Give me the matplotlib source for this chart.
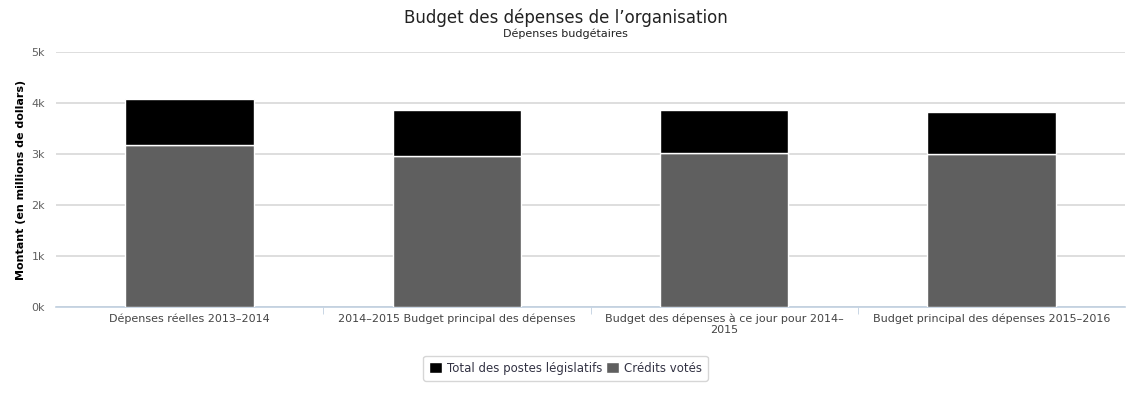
import matplotlib
matplotlib.use('Agg')
import matplotlib.pyplot as plt
from matplotlib.ticker import FuncFormatter

categories = [
    "Dépenses réelles 2013–2014",
    "2014–2015 Budget principal des dépenses",
    "Budget des dépenses à ce jour pour 2014–\n2015",
    "Budget principal des dépenses 2015–2016",
]
credits_votes = [3170, 2960, 3020, 3000]
postes_legislatifs = [900, 900, 840, 820]

plt.rcParams['font.family'] = ['DejaVu Sans']

fig = plt.figure(figsize=(11.31, 3.95), dpi=100)
ax = fig.add_axes([56 / 1131, 88 / 395, (1125 - 56) / 1131, (307 - 52) / 395])

x = range(len(categories))
ax.bar(x, credits_votes, width=0.48, color='#5f5f5f', edgecolor='white',
       linewidth=1, zorder=3, label="Crédits votés")
ax.bar(x, postes_legislatifs, width=0.48, bottom=credits_votes, color='black',
       edgecolor='white', linewidth=1, zorder=3, label="Total des postes législatifs")

ax.set_xlim(-0.5, len(categories) - 0.5)
ax.set_ylim(0, 5000)
ax.set_yticks(range(0, 5001, 1000))
ax.yaxis.set_major_formatter(FuncFormatter(lambda v, p: f"{int(v / 1000)}k"))
ax.grid(axis='y', color='#d8d8d8', linewidth=1.2, zorder=0)

ax.set_xticks(list(x))
ax.set_xticklabels(categories, fontsize=8, color='#444444', linespacing=1.1)
ax.set_xticks([0.5, 1.5, 2.5], minor=True)
ax.tick_params(axis='x', which='major', length=0, pad=5)
ax.tick_params(axis='x', which='minor', length=5, color='#c0d0e0')
ax.tick_params(axis='y', length=0, labelsize=8, labelcolor='#606060', pad=8)

for side in ['top', 'right', 'left']:
    ax.spines[side].set_visible(False)
ax.spines['bottom'].set_color('#c0d0e0')
ax.spines['bottom'].set_linewidth(1.2)

ax.set_ylabel("Montant (en millions de dollars)", fontsize=8, fontweight='bold',
              labelpad=4)

fig.text(0.5, 0.955, "Budget des dépenses de l’organisation", ha='center',
         va='center', fontsize=12, color='#222222')
fig.text(0.5, 0.915, "Dépenses budgétaires", ha='center', va='center',
         fontsize=8, color='#222222')

handles, labels = ax.get_legend_handles_labels()
leg = fig.legend(handles[::-1], labels[::-1], loc='center', bbox_to_anchor=(0.5, 0.068),
                 ncol=2, fontsize=8.5, frameon=True, handlelength=1.1,
                 handleheight=1.1, handletextpad=0.4, columnspacing=0.3,
                 borderpad=0.5, fancybox=True)
leg.get_frame().set_edgecolor('#cccccc')
for t in leg.get_texts():
    t.set_color('#333344')

fig.savefig("out.png", dpi=100)
